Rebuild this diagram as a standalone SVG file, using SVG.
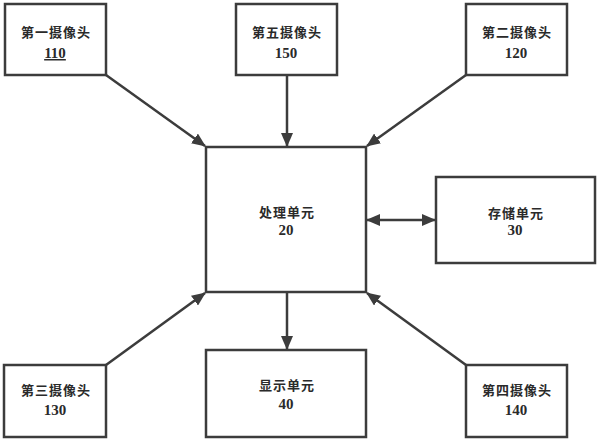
<svg xmlns="http://www.w3.org/2000/svg" width="600" height="442" viewBox="0 0 600 442">
<style>
.box{fill:#fff;stroke:#3c3c3c;stroke-width:2.5}
.cn{font-family:"Noto Sans CJK SC","Noto Sans CJK JP",sans-serif;font-size:13px;font-weight:bold;fill:#2a2a2a;text-anchor:middle;letter-spacing:1px}
.num{font-family:"Liberation Serif",serif;font-size:15px;font-weight:bold;fill:#2a2a2a;text-anchor:middle}
.ln{stroke:#3c3c3c;stroke-width:2.5;fill:none}
</style>
<defs>
<marker id="ah" markerUnits="userSpaceOnUse" markerWidth="14" markerHeight="12" viewBox="0 0 14 12" refX="13" refY="6" orient="auto-start-reverse">
<path d="M0,0 L14,6 L0,12 z" fill="#3c3c3c"/>
</marker>
</defs>
<rect width="600" height="442" fill="#fff"/>
<g id="connectors">
<line class="ln" x1="106" y1="75" x2="205" y2="146" marker-end="url(#ah)"/>
<line class="ln" x1="287" y1="75" x2="287" y2="146" marker-end="url(#ah)"/>
<line class="ln" x1="466" y1="75" x2="367" y2="146" marker-end="url(#ah)"/>
<line class="ln" x1="367" y1="220" x2="435" y2="220" marker-start="url(#ah)" marker-end="url(#ah)"/>
<line class="ln" x1="106" y1="365" x2="205" y2="293" marker-end="url(#ah)"/>
<line class="ln" x1="466" y1="365" x2="367" y2="293" marker-end="url(#ah)"/>
<line class="ln" x1="287" y1="292" x2="287" y2="349" marker-end="url(#ah)"/>
</g>
<g id="cam1">
<rect class="box" x="5" y="4" width="101" height="71"/>
<text class="cn" x="56" y="37">第一摄像头</text>
<text class="num" x="55" y="58" text-decoration="underline">110</text>
</g>
<g id="cam5">
<rect class="box" x="236" y="4" width="101" height="71"/>
<text class="cn" x="287" y="37">第五摄像头</text>
<text class="num" x="286" y="58">150</text>
</g>
<g id="cam2">
<rect class="box" x="466" y="4" width="101" height="71"/>
<text class="cn" x="517" y="37">第二摄像头</text>
<text class="num" x="516" y="58">120</text>
</g>
<g id="proc">
<rect class="box" x="206" y="147" width="160" height="145"/>
<text class="cn" x="287" y="217">处理单元</text>
<text class="num" x="286" y="235">20</text>
</g>
<g id="store">
<rect class="box" x="436" y="177" width="159" height="86"/>
<text class="cn" x="516" y="218">存储单元</text>
<text class="num" x="515" y="235">30</text>
</g>
<g id="cam3">
<rect class="box" x="4" y="365" width="102" height="72"/>
<text class="cn" x="56" y="395">第三摄像头</text>
<text class="num" x="55" y="415">130</text>
</g>
<g id="disp">
<rect class="box" x="206" y="350" width="160" height="87"/>
<text class="cn" x="287" y="390">显示单元</text>
<text class="num" x="286" y="409">40</text>
</g>
<g id="cam4">
<rect class="box" x="466" y="365" width="101" height="72"/>
<text class="cn" x="517" y="395">第四摄像头</text>
<text class="num" x="516" y="415">140</text>
</g>
</svg>
